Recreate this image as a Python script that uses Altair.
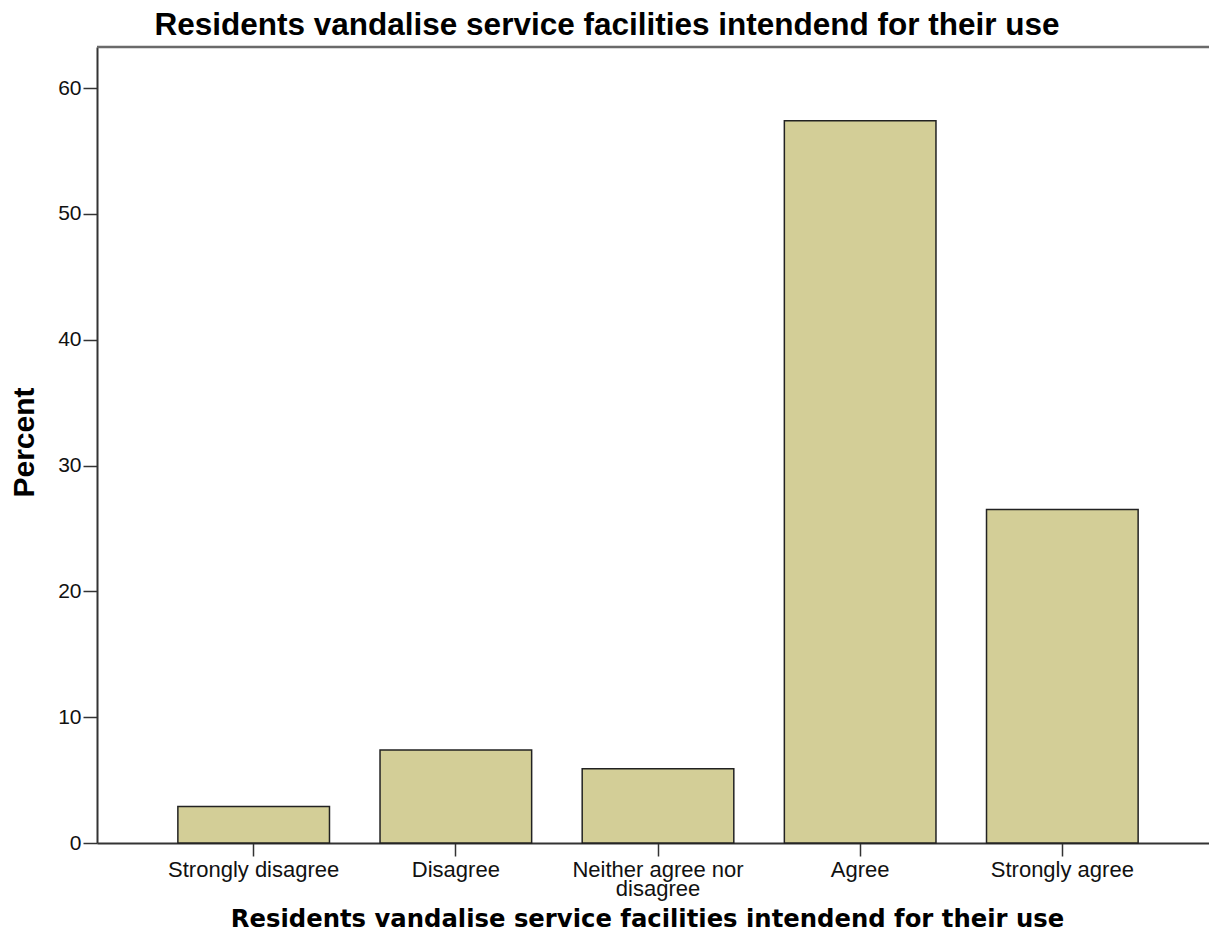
import altair as alt
import pandas as pd

categories = ["Strongly disagree", "Disagree", "Neither agree nor disagree", "Agree", "Strongly agree"]
percents = [2.9, 7.4, 5.9, 57.4, 26.5]
label_lines = {"Neither agree nor disagree": ["Neither agree nor", "disagree"]}
y_ticks = [0, 10, 20, 30, 40, 50, 60]

title_text = "Residents vandalise service facilities intendend for their use"
x_title = "Residents vandalise service facilities intendend for their use"
y_title = "Percent"

df = pd.DataFrame({"category": categories, "percent": percents})

W = 1112
RANGE_W = 1122
H = 796

label_expr = "datum.label"
for k, v in label_lines.items():
    arr = "[" + ",".join("'" + s + "'" for s in v) + "]"
    label_expr = f"datum.label == '{k}' ? {arr} : " + label_expr

bars = alt.Chart(df).mark_bar(
    color="#D3CE97", stroke="#222222", strokeWidth=1.5
).encode(
    x=alt.X(
        "category:N",
        sort=categories,
        scale=alt.Scale(paddingInner=0.25, paddingOuter=0.4, range=[0, RANGE_W]),
        axis=alt.Axis(
            title=x_title,
            labelAngle=0,
            labelExpr=label_expr,
            labelFont="Liberation Sans",
            labelFontSize=22,
            labelColor="#111111",
            labelLineHeight=19,
            labelPadding=3,
            labelLimit=400,
            tickSize=13,
            tickColor="#333333",
            tickWidth=1.5,
            domainColor="#333333",
            domainWidth=2,
            titleFont="DejaVu Sans",
            titleFontSize=24.3,
            titleFontWeight="bold",
            titleColor="#000000",
            titleX=550,
            titleY=83,
            titleBaseline="alphabetic",
            titleAnchor="middle",
            titleAlign="center",
        ),
    ),
    y=alt.Y(
        "percent:Q",
        scale=alt.Scale(domain=[0, 63.26], nice=False, zero=True),
        axis=alt.Axis(
            title=y_title,
            values=y_ticks,
            grid=False,
            labelFont="Liberation Sans",
            labelFontSize=21,
            labelColor="#111111",
            labelPadding=2,
            tickSize=14,
            tickColor="#333333",
            tickWidth=1.5,
            domainColor="#333333",
            domainWidth=2,
            titleFont="Liberation Sans",
            titleFontSize=30,
            titleFontWeight="bold",
            titleColor="#000000",
            titleAngle=270,
            titleX=-64,
            titleY=H / 2 - 3,
            titleBaseline="alphabetic",
            titleAlign="center",
        ),
    ),
)

top_border = alt.Chart(pd.DataFrame({"v": [0]})).mark_rule(
    color="#6a6a6a", strokeWidth=2.5
).encode(x=alt.value(0), x2=alt.value(W), y=alt.value(0))

chart = alt.layer(bars, top_border).properties(
    width=W,
    height=H,
    autosize="none",
    padding={"left": 89, "top": 39, "right": 0, "bottom": 105},
    title=alt.TitleParams(
        text=title_text,
        font="Liberation Sans",
        fontSize=31.5,
        fontWeight="bold",
        color="#000000",
        anchor="middle",
        dx=-46,
        offset=4,
    ),
).configure_view(
    fill="#F0F0F0", stroke=None
).configure(background="#FFFFFF")

chart.save("out.html", embed_options={"renderer": "svg", "actions": False})
